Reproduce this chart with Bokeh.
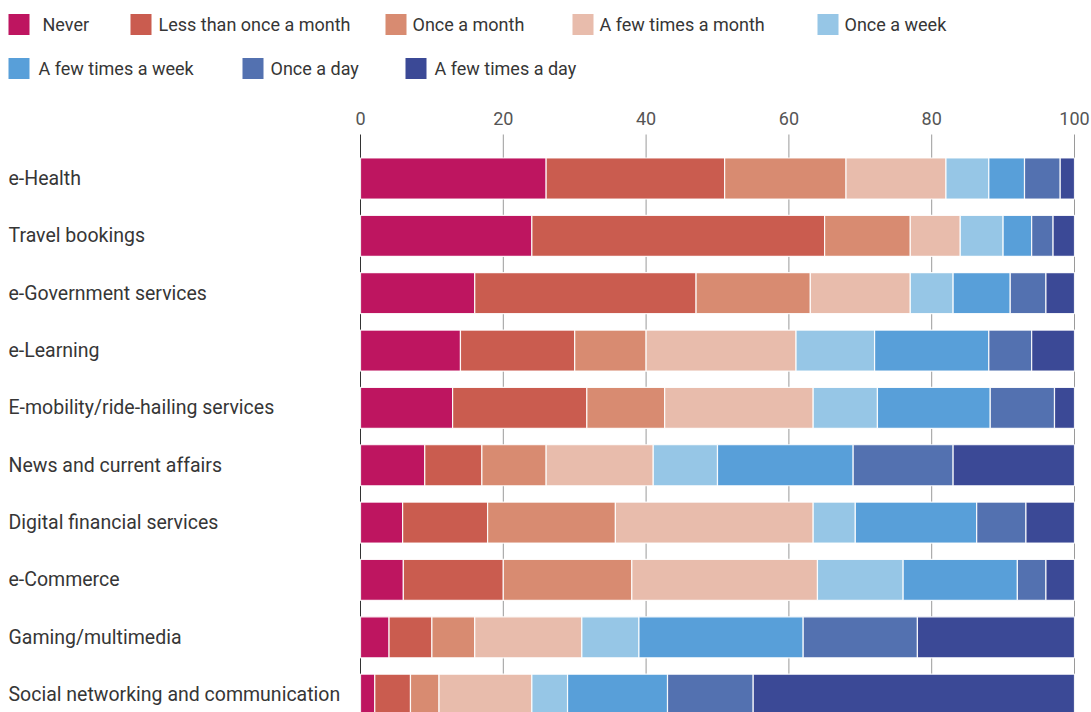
from bokeh.plotting import figure
from bokeh.models import ColumnDataSource, Range1d
from bokeh.core.properties import value
from bokeh.embed import file_html
from bokeh.resources import INLINE

# ---------------- data ----------------
categories = [
    "e-Health",
    "Travel bookings",
    "e-Government services",
    "e-Learning",
    "E-mobility/ride-hailing services",
    "News and current affairs",
    "Digital financial services",
    "e-Commerce",
    "Gaming/multimedia",
    "Social networking and communication",
]
series_names = [
    "Never",
    "Less than once a month",
    "Once a month",
    "A few times a month",
    "Once a week",
    "A few times a week",
    "Once a day",
    "A few times a day",
]
never              = [26, 24, 16, 14, 12.9, 9, 5.9, 6, 4, 2]
less_than_monthly  = [25, 41, 31, 16, 18.8, 8, 11.9, 14, 6, 5]
once_a_month       = [17, 12, 16, 10, 10.9, 9, 17.9, 18, 6, 4]
few_times_month    = [14, 7, 14, 21, 20.8, 15, 27.7, 26, 15, 13]
once_a_week        = [6, 6, 6, 11, 9.0, 9, 5.9, 12, 8, 5]
few_times_week     = [5, 4, 8, 16, 15.8, 19, 17.0, 16, 23, 14]
once_a_day         = [5, 3, 5, 6, 9.0, 14, 6.9, 4, 16, 12]
few_times_day      = [2, 3, 4, 6, 2.8, 17, 6.8, 4, 22, 45]
x_ticks = [0, 20, 40, 60, 80, 100]

colors = ["#BE1560", "#CA5C4F", "#D88B71", "#E8BCAC",
          "#96C6E6", "#589FD9", "#5371B0", "#3B4996"]

keys = ["never", "less", "once_m", "few_m", "once_w", "few_w", "once_d", "few_d"]
values = [never, less_than_monthly, once_a_month, few_times_month,
          once_a_week, few_times_week, once_a_day, few_times_day]

FONT = "Roboto"
TXT = "#363636"

W, H = 1091, 712
OX, OY = 0, 0  # page position of the figure
# page x 360 -> 0, page x 1074 -> 100
px_per_unit = (1074 - 360) / 100.0
x_start = (OX - 360) / px_per_unit
x_end = (OX + W - 360) / px_per_unit
# rows: centre of row i at page y 178 + 57.35*i
row_h = 57.35
y0 = 178 - OY
y_top = (0 - y0) / row_h
y_bot = (H - y0) / row_h

def ypage(py):
    return (py - OY - y0) / row_h

def xpage(px):
    return (px - OX - 360) / px_per_unit

p = figure(width=W, height=H, output_backend="svg", toolbar_location=None,
           x_range=Range1d(x_start, x_end), y_range=Range1d(y_bot, y_top),
           min_border=0, outline_line_color=None)
p.xaxis.visible = False
p.yaxis.visible = False
p.grid.visible = False
p.background_fill_color = "white"

# grid lines (drawn under the bars)
g_top = ypage(134)
grid_src = ColumnDataSource(dict(x=x_ticks, y0=[g_top] * len(x_ticks),
                                 y1=[y_bot + 1] * len(x_ticks),
                                 c=["#333333"] + ["#9a9a9a"] * (len(x_ticks) - 1)))
p.segment(x0="x", y0="y0", x1="x", y1="y1", color="c", line_width=1, source=grid_src)

# tick labels
p.text(x=x_ticks, y=[ypage(118)] * len(x_ticks), text=[str(t) for t in x_ticks],
       text_align="center", text_baseline="middle", text_font=value(FONT),
       text_font_size="18px", text_color="#555555")

# stacked bars
data = dict(y=list(range(len(categories))))
for k, v in zip(keys, values):
    data[k] = v
src = ColumnDataSource(data)
p.hbar_stack(keys, y="y", height=0.715, color=colors, source=src,
             line_color="white", line_width=1.2, line_alpha=0.9)

# category labels
p.text(x=[xpage(8)] * len(categories), y=list(range(len(categories))),
       text=categories, text_align="left", text_baseline="middle", text_font=value(FONT),
       text_font_size="19.5px", text_color=TXT)

# legend (flow layout in two rows)
leg_sq_left = [8, 130, 385, 572, 817, 8, 242, 405]
leg_tx_left = [42, 158, 412, 599, 844, 38, 270, 434]
leg_row_y = [24, 24, 24, 24, 24, 68, 68, 68]
sq_x = [xpage(l + 10.5) for l in leg_sq_left]
tx_x = [xpage(l) for l in leg_tx_left]
ly = [ypage(y) for y in leg_row_y]
p.scatter(x=sq_x, y=ly, marker="square", size=21, color=colors, line_color=None)
p.text(x=tx_x, y=ly, text=series_names, text_align="left", text_baseline="middle",
       text_font=value(FONT), text_font_size="18px", text_color=TXT)

open("out.html", "w").write(file_html(p, INLINE))
